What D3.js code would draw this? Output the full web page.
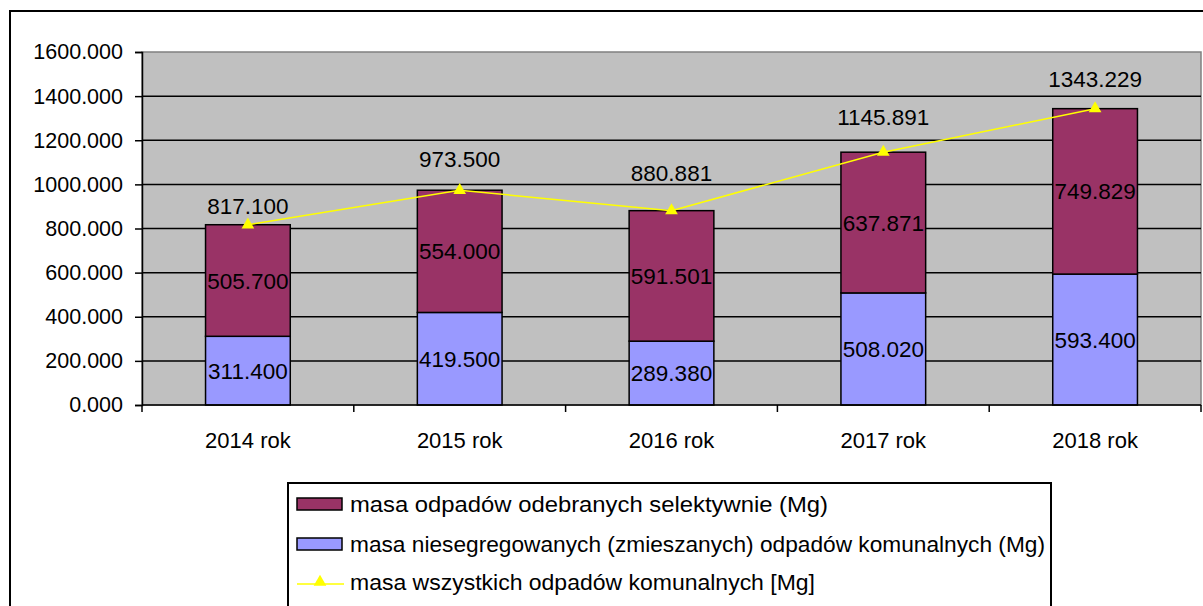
<!DOCTYPE html>
<html><head><meta charset="utf-8">
<script src="https://cdn.jsdelivr.net/npm/d3@7"></script>
<style>body{margin:0;background:#fff}svg{display:block;font-family:"Liberation Sans",Arial,sans-serif}</style>
</head><body>
<svg id="c" width="1203" height="606"></svg>
<script>
const categories = ["2014 rok","2015 rok","2016 rok","2017 rok","2018 rok"];
const mixed = [311.400, 419.500, 289.380, 508.020, 593.400];
const selective = [505.700, 554.000, 591.501, 637.871, 749.829];
const totals = [817.100, 973.500, 880.881, 1145.891, 1343.229];
const yTicks = [0,200,400,600,800,1000,1200,1400,1600];
const seriesNames = ["masa odpadów odebranych selektywnie (Mg)",
  "masa niesegregowanych (zmieszanych) odpadów komunalnych (Mg)",
  "masa wszystkich odpadów komunalnych [Mg]"];
const colors = {sel:"#993366", mix:"#9999FF", line:"#FFFF00"};
// style: pixel offsets of total labels above the line points, legend text widths
const totalLabelOffsets = [19, 31, 38, 35, 30];
const legendTextWidths = [478, 695, 465];

const svg = d3.select("#c");
const L=142, R=1201, T=52, B=405;
const fs = 21.5, vfs = 22.5;
const fmt = d3.format(".3f");

svg.append("rect").attr("x",10).attr("y",11).attr("width",1203).attr("height",620)
  .attr("fill","#fff").attr("stroke","#000").attr("stroke-width",2);

const x = d3.scaleBand().domain(categories).range([L,R]).paddingInner(0).paddingOuter(0);
const y = d3.scaleLinear().domain([0,1600]).range([B,T]);
const bw = x.bandwidth()*0.4;

svg.append("rect").attr("x",L).attr("y",T).attr("width",R-L).attr("height",B-T)
  .attr("fill","#C0C0C0").attr("stroke","#808080").attr("stroke-width",1.5);

svg.append("g").selectAll("line").data(yTicks.filter(d=>d>0 && d<1600)).join("line")
  .attr("x1",L).attr("x2",R).attr("y1",d=>y(d)).attr("y2",d=>y(d))
  .attr("stroke","#000").attr("stroke-width",1.5);

// bars
const g = svg.append("g");
categories.forEach((c,i)=>{
  const cx = x(c)+x.bandwidth()/2;
  g.append("rect").attr("x",cx-bw/2).attr("y",y(mixed[i])).attr("width",bw)
    .attr("height",y(0)-y(mixed[i])).attr("fill",colors.mix).attr("stroke","#000").attr("stroke-width",1.5);
  g.append("rect").attr("x",cx-bw/2).attr("y",y(mixed[i]+selective[i])).attr("width",bw)
    .attr("height",y(mixed[i])-y(mixed[i]+selective[i])).attr("fill",colors.sel).attr("stroke","#000").attr("stroke-width",1.5);
});

// axes
const yAxis = svg.append("g").attr("transform",`translate(${L},0)`)
  .call(d3.axisLeft(y).tickValues(yTicks).tickFormat(fmt).tickSize(7).tickPadding(12));
yAxis.select(".domain").attr("stroke","#000").attr("stroke-width",1.5);
yAxis.selectAll(".tick line").attr("stroke","#000").attr("stroke-width",1.5);
yAxis.selectAll("text").attr("font-size",fs).attr("fill","#000").attr("font-family","Liberation Sans, Arial");

const xAxisG = svg.append("g").attr("transform",`translate(0,${B})`);
xAxisG.append("line").attr("x1",L).attr("x2",R).attr("stroke","#000").attr("stroke-width",1.5);
const bounds = categories.map(c=>x(c)).concat([R]);
xAxisG.selectAll("line.t").data(bounds).join("line").attr("class","t")
  .attr("x1",d=>d).attr("x2",d=>d).attr("y1",0).attr("y2",7).attr("stroke","#000").attr("stroke-width",1.5);
xAxisG.selectAll("text").data(categories).join("text")
  .attr("x",d=>x(d)+x.bandwidth()/2).attr("y",43).attr("text-anchor","middle")
  .attr("font-size",22).text(d=>d);

// line
const pts = categories.map((c,i)=>[x(c)+x.bandwidth()/2, y(totals[i])]);
svg.append("path").attr("d",d3.line()(pts)).attr("fill","none").attr("stroke",colors.line).attr("stroke-width",1.5);
const tri = d3.symbol().type(d3.symbolTriangle).size(70);
svg.append("g").selectAll("path").data(pts).join("path")
  .attr("transform",d=>`translate(${d[0]},${d[1]})`).attr("d",tri()).attr("fill",colors.line);

// labels
const lab = svg.append("g").attr("font-size",vfs).attr("text-anchor","middle").attr("fill","#000");
categories.forEach((c,i)=>{
  const cx = x(c)+x.bandwidth()/2;
  lab.append("text").attr("x",cx).attr("y",y(mixed[i]/2)).attr("dy","0.36em").text(fmt(mixed[i]));
  lab.append("text").attr("x",cx).attr("y",y(mixed[i]+selective[i]/2)).attr("dy","0.36em").text(fmt(selective[i]));
  lab.append("text").attr("x",cx).attr("y",y(totals[i])-totalLabelOffsets[i]).attr("dy","0.36em").text(fmt(totals[i]));
});

// legend
const lg = svg.append("g");
lg.append("rect").attr("x",288).attr("y",483).attr("width",763).attr("height",140)
  .attr("fill","#fff").attr("stroke","#000").attr("stroke-width",2);
const rowsY = [504,544,582];
lg.append("rect").attr("x",297).attr("y",rowsY[0]-6).attr("width",45).attr("height",12)
  .attr("fill",colors.sel).attr("stroke","#000").attr("stroke-width",1.5);
lg.append("rect").attr("x",297).attr("y",rowsY[1]-6).attr("width",45).attr("height",12)
  .attr("fill",colors.mix).attr("stroke","#000").attr("stroke-width",1.5);
lg.append("line").attr("x1",297).attr("x2",344).attr("y1",rowsY[2]+2).attr("y2",rowsY[2]+2)
  .attr("stroke",colors.line).attr("stroke-width",1.5);
lg.append("path").attr("transform",`translate(320,${rowsY[2]})`).attr("d",tri()).attr("fill",colors.line);
lg.selectAll("text").data(seriesNames).join("text")
  .attr("x",350).attr("y",(d,i)=>rowsY[i]).attr("dy","0.36em").attr("font-size",22)
  .attr("textLength",(d,i)=>legendTextWidths[i]).attr("lengthAdjust","spacingAndGlyphs").text(d=>d);
</script>
</body></html>
